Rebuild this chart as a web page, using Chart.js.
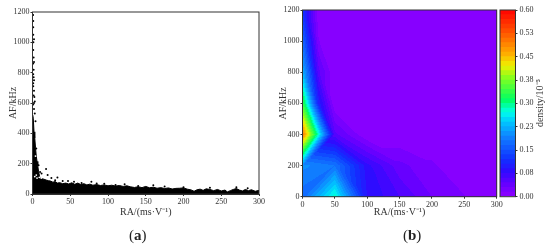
<!DOCTYPE html>
<html>
<head>
<meta charset="utf-8">
<script src="https://cdn.jsdelivr.net/npm/chart.js@4/dist/chart.umd.min.js"></script>
<style>
    html, body { margin: 0; background: #fff; }
    #page { position: relative; width: 550px; height: 247px; overflow: hidden; }
    canvas { position: absolute; top: 0; filter: blur(0.4px); }
    .caption { position: absolute; top: 227px; font: 15px "Liberation Serif", serif; color: #222; }
</style>
</head>
<body>
<div id="page">
    <canvas id="scatterChart" width="275" height="247" style="left:0"></canvas>
    <canvas id="densityChart" width="275" height="247" style="left:275px"></canvas>
    <canvas id="colorbarChart" width="55" height="247" style="left:495px"></canvas>
    <div class="caption" style="left:129px">(<b>a</b>)</div>
    <div class="caption" style="left:403px">(<b>b</b>)</div>
</div>
<script>
// (a) outline of the solid black mass
const edgeRA = [0.4, 1, 2, 3, 4, 5, 6, 7, 8, 9, 10, 11, 13, 15, 18, 21, 24, 27, 30, 33, 36, 40, 44, 48, 52, 56, 60, 64, 68, 72, 76, 80, 85, 90, 95, 100, 105, 110, 115, 120, 125, 130, 135, 140, 145, 150, 155, 160, 165, 170, 175, 180, 185, 190, 195, 200, 205, 210, 214, 218, 222, 226, 230, 235, 240, 245, 250, 255, 258, 262, 266, 270, 274, 278, 282, 286, 290, 295, 300];
const edgeAF = [520, 500, 410, 370, 305, 250, 215, 185, 150, 125, 100, 92, 100, 98, 92, 88, 85, 78, 82, 72, 75, 68, 72, 66, 74, 64, 72, 62, 68, 60, 65, 58, 62, 56, 60, 54, 58, 52, 56, 50, 54, 47, 43, 48, 42, 50, 41, 45, 38, 42, 36, 40, 33, 37, 38, 40, 32, 27, 18, 28, 32, 24, 34, 30, 22, 30, 20, 26, 14, 22, 30, 36, 26, 20, 30, 22, 28, 18, 24];
// (a) single points outside the mass
const looseRA = [0.8, 1, 1, 1.2, 1, 1.5, 2, 1.5, 1, 2, 1, 2, 1.5, 3, 1, 2, 3, 1, 2, 1, 1.5, 2.5, 1, 2, 4, 5, 8, 10, 12, 18, 20, 25, 30, 33, 40, 47, 55, 65, 78, 85, 95, 110, 122, 140, 160, 175, 200, 235, 270, 285];
const looseAF = [1180, 1100, 1050, 1000, 950, 900, 870, 820, 790, 750, 710, 680, 650, 610, 590, 560, 530, 1140, 1020, 860, 770, 640, 730, 600, 480, 300, 190, 145, 135, 165, 125, 105, 90, 108, 85, 85, 80, 72, 80, 70, 68, 60, 65, 52, 58, 50, 45, 42, 45, 38];
// (a) white specks inside the black
const gapRA = [3, 6, 9, 12, 16, 22, 5, 4];
const gapAF = [115, 105, 110, 118, 110, 103, 125, 250];

// (b) density at the nodes below AF 400, one list per RA column
const lowerRA = [0, 50, 100, 150, 200, 250, 300];
const lowerAF = [0, 200, 400];
const lowerColumns = [
    [0.17, 0.2, 0.5],
    [0.28, 0.18, 0.05],
    [0.09, 0.08, 0],
    [0.06, 0.035, 0],
    [0.03, 0.018, 0],
    [0.016, 0, 0],
    [0, 0, 0]
];
// (b) density at the nodes above AF 400, with one more column at RA 25
const upperRA = [0, 25, 50, 100, 300];
const upperAF = [400, 600, 800, 1000, 1200];
const upperColumns = [
    [0.5, 0.34, 0.23, 0.17, 0.12],
    [0.275, 0.1, 0.05, 0.016, 0],
    [0.05, 0, 0, 0, 0],
    [0, 0, 0, 0, 0],
    [0, 0, 0, 0, 0]
];

// colour scale
const colorbarTicks = ['0.00', '0.08', '0.15', '0.23', '0.30', '0.38', '0.45', '0.53', '0.60'];
const stopValues = [0, 0.04, 0.08, 0.12, 0.19, 0.24, 0.27, 0.31, 0.38, 0.42, 0.46, 0.53, 0.6];
const stopColors = [[143, 0, 255], [100, 0, 255], [48, 10, 255], [16, 50, 255], [16, 128, 255], [0, 200, 255], [0, 255, 235], [0, 255, 100], [130, 255, 30], [240, 240, 0], [255, 170, 0], [255, 80, 0], [255, 0, 0]];
const bandSize = 0.015;
const bandCount = 40;

const inkColor = '#333';
const serif = 'Liberation Serif';

function bandColor(band) {
    const value = (band + 0.5) * bandSize;
    let i = 0;
    while (i < stopValues.length - 2 && value > stopValues[i + 1]) i++;
    const t = (value - stopValues[i]) / (stopValues[i + 1] - stopValues[i]);
    const rgb = stopColors[i].map((c, k) => Math.round(c + (stopColors[i + 1][k] - c) * t));
    return `rgb(${rgb[0]},${rgb[1]},${rgb[2]})`;
}

const bandColors = [];
for (let b = 0; b < bandCount; b++) bandColors.push(bandColor(b));

function findCell(list, value) {
    let i = 0;
    while (i < list.length - 2 && value > list[i + 1]) i++;
    return i;
}

// value inside a grid cell, split in two triangles along the flatter diagonal
function densityAt(ra, af) {
    const xs = af <= 400 ? lowerRA : upperRA;
    const ys = af <= 400 ? lowerAF : upperAF;
    const columns = af <= 400 ? lowerColumns : upperColumns;
    const i = findCell(xs, ra);
    const j = findCell(ys, af);
    const u = (ra - xs[i]) / (xs[i + 1] - xs[i]);
    const v = (af - ys[j]) / (ys[j + 1] - ys[j]);
    const a = columns[i][j];
    const b = columns[i + 1][j];
    const c = columns[i][j + 1];
    const d = columns[i + 1][j + 1];
    if (Math.abs(a - d) <= Math.abs(b - c)) {
        return u >= v ? a + u * (b - a) + v * (d - b) : a + v * (c - a) + u * (d - c);
    }
    return u + v <= 1 ? a + u * (b - a) + v * (c - a) : d + (1 - u) * (c - d) + (1 - v) * (b - d);
}

const contourPlugin = {
    id: 'contour',
    beforeDatasetsDraw(chart) {
        const { ctx, chartArea, scales } = chart;
        for (let px = Math.floor(chartArea.left); px < chartArea.right; px++) {
            for (let py = Math.floor(chartArea.top); py < chartArea.bottom; py++) {
                const ra = Math.min(300, Math.max(0, scales.x.getValueForPixel(px + 0.5)));
                const af = Math.min(1200, Math.max(0, scales.y.getValueForPixel(py + 0.5)));
                const band = Math.min(bandCount - 1, Math.floor(densityAt(ra, af) / bandSize));
                ctx.fillStyle = bandColors[band];
                ctx.fillRect(px, py, 1, 1);
            }
        }
    }
};

const framePlugin = {
    id: 'frame',
    afterDraw(chart) {
        const { ctx, chartArea } = chart;
        ctx.save();
        ctx.strokeStyle = inkColor;
        ctx.lineWidth = 1;
        ctx.strokeRect(chartArea.left, chartArea.top, chartArea.right - chartArea.left, chartArea.bottom - chartArea.top);
        ctx.restore();
    }
};

const colorbarTitlePlugin = {
    id: 'colorbarTitle',
    afterDraw(chart) {
        const { ctx } = chart;
        ctx.save();
        ctx.translate(45, 103);
        ctx.rotate(-Math.PI / 2);
        ctx.font = `10px "${serif}"`;
        ctx.fillStyle = inkColor;
        ctx.textAlign = 'center';
        ctx.textBaseline = 'middle';
        ctx.fillText('density/10\u207B\u2075', 0, 0);
        ctx.restore();
    }
};

function axisOptions(max, step, title, sizeSetter) {
    return {
        type: 'linear',
        min: 0,
        max: max,
        ticks: { stepSize: step, color: inkColor, padding: 1, maxRotation: 0, autoSkip: false, font: { family: serif, size: 8 }, callback: value => String(value) },
        grid: { drawOnChartArea: false, color: inkColor, tickLength: 2, tickColor: inkColor },
        border: { color: inkColor },
        title: { display: true, text: title, color: inkColor, padding: { top: 0, bottom: 0 }, font: { family: serif, size: 10 } },
        afterFit: sizeSetter
    };
}

function baseOptions(padding, yWidth, xHeight) {
    return {
        responsive: false,
        animation: false,
        layout: { padding: padding },
        plugins: { legend: { display: false }, tooltip: { enabled: false } },
        scales: {
            x: axisOptions(300, 50, 'RA/(ms\u00B7V\u207B\u00B9)', s => { s.height = xHeight; }),
            y: axisOptions(1200, 200, 'AF/kHz', s => { s.width = yWidth; })
        }
    };
}

function toPoints(xs, ys) {
    return xs.map((x, i) => ({ x: x, y: ys[i] }));
}

new Chart(document.getElementById('scatterChart'), {
    type: 'scatter',
    data: {
        datasets: [
            { data: toPoints(gapRA, gapAF), pointRadius: 0.9, pointBackgroundColor: '#fff', pointBorderWidth: 0, order: 1 },
            { data: toPoints(looseRA, looseAF), pointRadius: 1, pointBackgroundColor: '#000', pointBorderWidth: 0, order: 2 },
            { data: toPoints(edgeRA, edgeAF), showLine: true, fill: 'origin', pointRadius: 0, borderWidth: 1, borderColor: '#000', backgroundColor: '#000', order: 3 }
        ]
    },
    options: baseOptions({ top: 12, right: 16, left: 7, bottom: 29 }, 25.5, 24),
    plugins: [framePlugin]
});

const gridPoints = [];
lowerRA.forEach((ra, i) => {
    lowerAF.forEach((af, j) => gridPoints.push({ x: ra, y: af, v: lowerColumns[i][j] }));
});
upperRA.forEach((ra, i) => {
    upperAF.forEach((af, j) => gridPoints.push({ x: ra, y: af, v: upperColumns[i][j] }));
});

new Chart(document.getElementById('densityChart'), {
    type: 'scatter',
    data: { datasets: [{ data: gridPoints, pointRadius: 0 }] },
    options: baseOptions({ top: 10, right: 53.3, left: 2, bottom: 28.3 }, 25.5, 22),
    plugins: [contourPlugin, framePlugin]
});

const bandDatasets = bandColors.map(color => ({
    data: [bandSize],
    backgroundColor: color,
    borderWidth: 0,
    barPercentage: 1,
    categoryPercentage: 1
}));

new Chart(document.getElementById('colorbarChart'), {
    type: 'bar',
    data: { labels: ['density'], datasets: bandDatasets },
    options: {
        responsive: false,
        animation: false,
        layout: { padding: { top: 10, bottom: 50.3, left: 5, right: 0 } },
        plugins: { legend: { display: false }, tooltip: { enabled: false } },
        scales: {
            x: { stacked: true, display: false },
            y: {
                stacked: true,
                position: 'right',
                min: 0,
                max: 0.6,
                ticks: {
                    stepSize: 0.075,
                    autoSkip: false,
                    color: inkColor,
                    padding: 2,
                    font: { family: serif, size: 8 },
                    callback: (value, index) => colorbarTicks[index]
                },
                grid: { drawOnChartArea: false, color: inkColor, tickLength: 2, tickColor: inkColor },
                border: { color: inkColor },
                afterFit: s => { s.width = 34.5; }
            }
        }
    },
    plugins: [framePlugin, colorbarTitlePlugin]
});
</script>
</body>
</html>
